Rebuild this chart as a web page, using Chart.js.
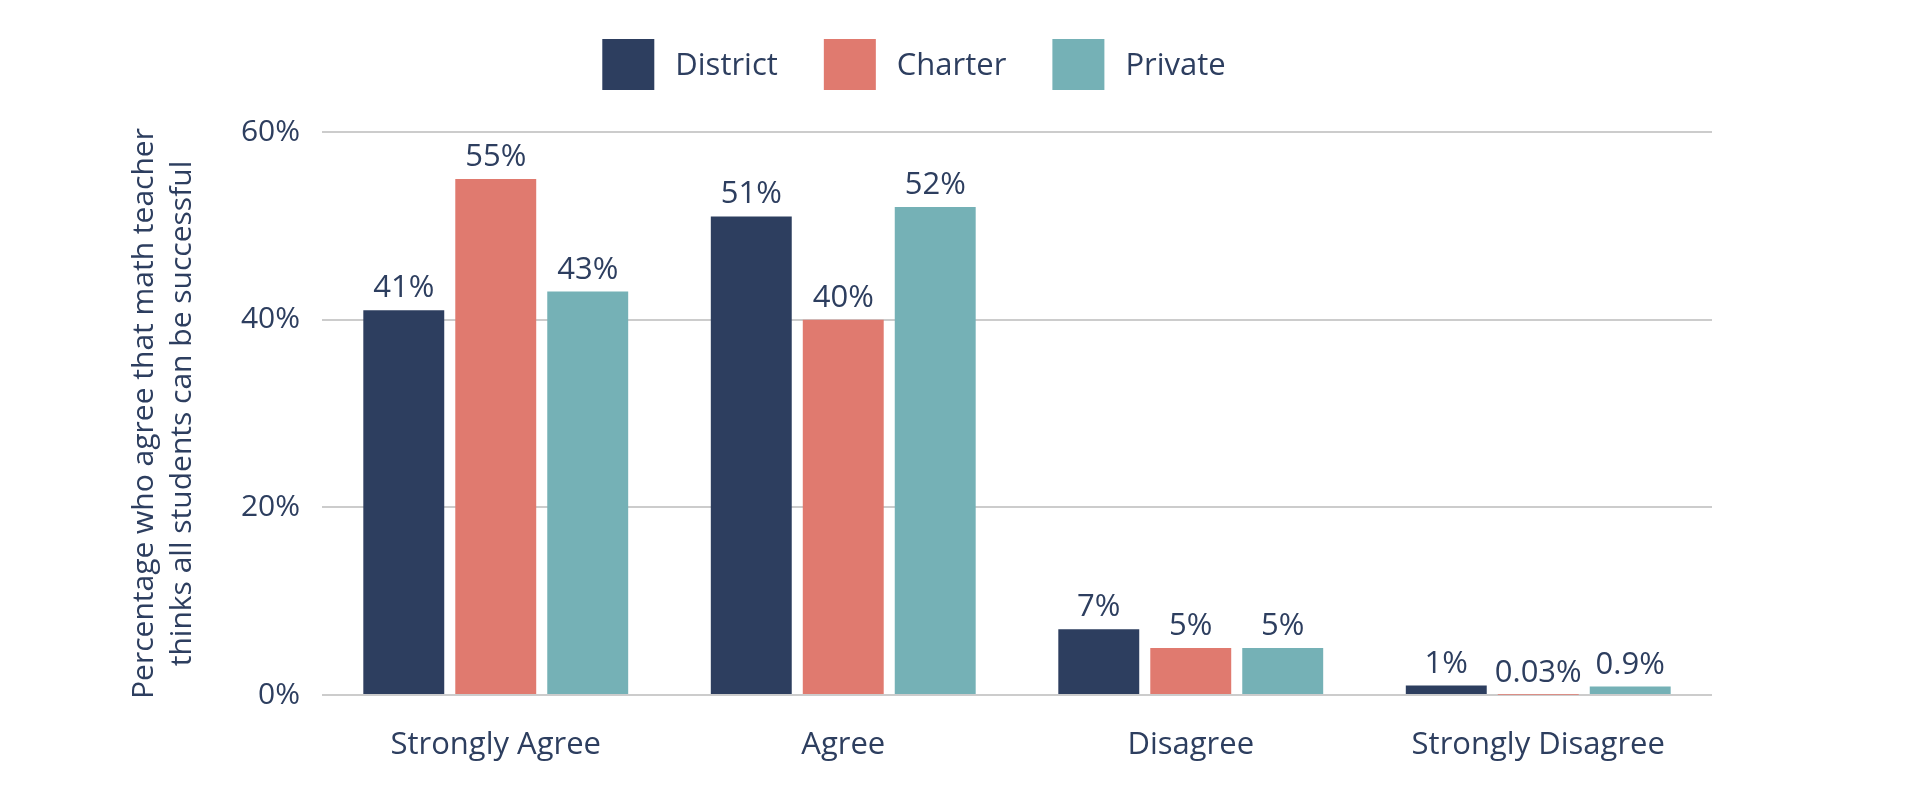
<!DOCTYPE html>
<html>
<head>
<meta charset="utf-8">
<script src="https://cdn.jsdelivr.net/npm/chart.js@4.4.0/dist/chart.umd.min.js"></script>
<style>
  html, body { margin: 0; padding: 0; background: #fff; }
  #wrap { width: 1928px; height: 810px; }
</style>
</head>
<body>
<div id="wrap"><canvas id="chart" width="1928" height="810"></canvas></div>
<script>
// Data
const categories = ['Strongly Agree', 'Agree', 'Disagree', 'Strongly Disagree'];
const seriesNames = ['District', 'Charter', 'Private'];
const districtValues = [41, 51, 7, 1];
const charterValues = [55, 40, 5, 0.03];
const privateValues = [43, 52, 5, 0.9];
const yTicks = [0, 20, 40, 60];
const yTitle = ['Percentage who agree that math teacher', 'thinks all students can be successful'];

const colors = ['#2D3E5F', '#E07A6F', '#75B1B6'];
const textColor = '#2D3E5F';
const fontFamily = "'Open Sans', sans-serif";

// legend drawn above the plot, centred a bit left of the canvas middle
const topLegend = {
    id: 'topLegend',
    afterDraw(chart) {
        const ctx = chart.ctx;
        const box = 52, gapText = 21, gapItem = 46, centerX = 914, top = 39;
        ctx.save();
        ctx.font = '31px ' + fontFamily;
        const items = chart.data.datasets.map(ds => ({
            label: ds.label,
            color: ds.backgroundColor,
            w: ctx.measureText(ds.label).width
        }));
        const total = items.reduce((s, it, i) => s + box + gapText + it.w + (i ? gapItem : 0), 0);
        let x = centerX - total / 2;
        ctx.textBaseline = 'middle';
        items.forEach(it => {
            ctx.fillStyle = it.color;
            ctx.fillRect(x, top, box, 51);
            ctx.fillStyle = textColor;
            ctx.fillText(it.label, x + box + gapText, top + 27);
            x += box + gapText + it.w + gapItem;
        });
        ctx.restore();
    }
};

// value labels over each bar
const valueLabels = {
    id: 'valueLabels',
    afterDatasetsDraw(chart) {
        const ctx = chart.ctx;
        ctx.save();
        ctx.font = '31px ' + fontFamily;
        ctx.fillStyle = textColor;
        ctx.textAlign = 'center';
        ctx.textBaseline = 'alphabetic';
        chart.data.datasets.forEach((ds, i) => {
            chart.getDatasetMeta(i).data.forEach((bar, j) => {
                ctx.fillText(ds.data[j] + '%', bar.x, bar.y - 13);
            });
        });
        ctx.restore();
    }
};

const seriesValues = [districtValues, charterValues, privateValues];

new Chart(document.getElementById('chart').getContext('2d'), {
    type: 'bar',
    data: {
        labels: categories,
        datasets: seriesNames.map((name, i) => ({
            label: name,
            data: seriesValues[i],
            backgroundColor: colors[i],
            barPercentage: 0.88,
            categoryPercentage: 0.794
        }))
    },
    options: {
        responsive: false,
        animation: false,
        devicePixelRatio: 1,
        layout: { padding: { left: 0, right: 216, top: 132, bottom: 0 } },
        plugins: {
            legend: { display: false },
            tooltip: { enabled: false }
        },
        scales: {
            x: {
                grid: { display: false },
                border: { display: false },
                ticks: { color: textColor, font: { family: fontFamily, size: 31 }, padding: 24 },
                afterFit(scale) { scale.height = 115; }
            },
            y: {
                min: 0,
                max: 60,
                afterBuildTicks(scale) { scale.ticks = yTicks.map(v => ({ value: v })); },
                grid: { color: '#CCCCCC', lineWidth: 2, drawTicks: false },
                border: { display: false },
                ticks: {
                    color: textColor,
                    font: { family: fontFamily, size: 30 },
                    padding: 22,
                    callback: v => v + '%'
                },
                title: {
                    display: true,
                    text: yTitle,
                    color: textColor,
                    font: { family: fontFamily, size: 30, lineHeight: 1.25 },
                    padding: { top: 126, bottom: 0 }
                },
                afterFit(scale) { scale.width = 322; }
            }
        }
    },
    plugins: [topLegend, valueLabels]
});
</script>
</body>
</html>
